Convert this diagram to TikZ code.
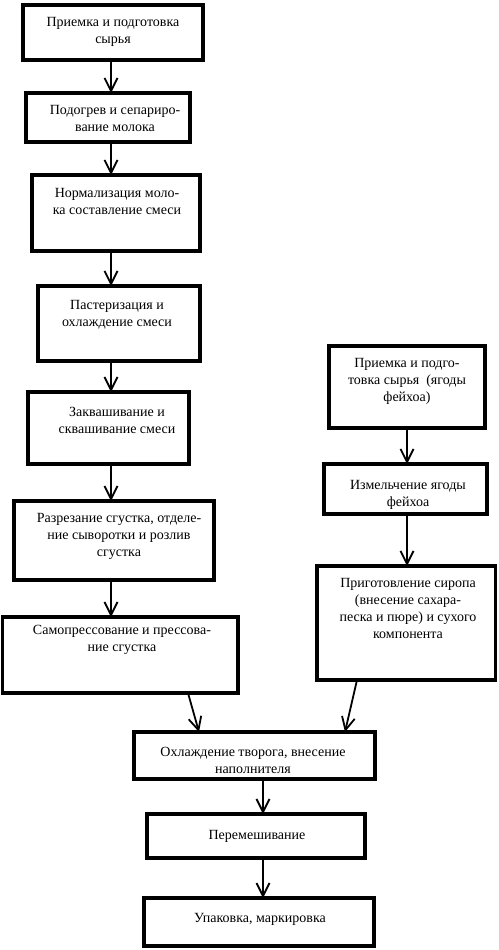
\documentclass[tikz,border=0pt]{standalone}
\usepackage{fontspec}
\setmainfont{Liberation Serif}
\usetikzlibrary{arrows.meta}
\newcommand\mkbox[5]{\node[procbox, minimum width={(#4-#2)*1pt}, minimum height={(#5-#3)*1pt}] (#1) at ({(#2+#4)/2},{(#3+#5)/2}) {};}
\begin{document}
\begin{tikzpicture}[x=1pt,y=-1pt,
 procbox/.style={draw, line width=3.5pt, rectangle, inner sep=0pt, outer sep=0pt},
 txt/.style={anchor=north, align=center, inner sep=0pt, font=\fontsize{14}{17}\selectfont},
 arr/.style={line width=1.8pt, -{Straight Barb[length=13pt,width=13pt,line width=1.8pt]}}]
\useasboundingbox (0,0) rectangle (498,950);
% boxes
\mkbox{b1}{23}{5}{203}{60}
\mkbox{b2}{26}{93}{190}{142}
\mkbox{b3}{32}{175}{200}{251}
\mkbox{b4}{38}{286}{200}{361}
\mkbox{b5}{28}{392}{189}{464}
\mkbox{b6}{14}{501}{214}{580}
\mkbox{b7}{2.5}{617}{238}{693}
\mkbox{r1}{329}{346}{485}{428}
\mkbox{r2}{324}{464}{487}{514}
\mkbox{r3}{317}{566}{495.5}{680}
\mkbox{b8}{134}{732}{375}{779}
\mkbox{b9}{147}{814}{365}{858}
\mkbox{b10}{144}{898}{374}{946}
% texts
\node[txt] (t1) at (113,17) {Приемка и подготовка\\сырья};
\node[txt] (t2) at (115,105) {Подогрев и сепариро-\\вание молока};
\node[txt] (t3) at (117,188) {Нормализация моло-\\ка составление смеси};
\node[txt] (t4) at (117,300) {Пастеризация и\\охлаждение смеси};
\node[txt] (t5) at (117,407) {Заквашивание и\\сквашивание смеси};
\node[txt] (t6) at (119,513) {Разрезание сгустка, отделе-\\ние сыворотки и розлив\\сгустка};
\node[txt] (t7) at (122,625) {Самопрессование и прессова-\\ние сгустка};
\node[txt] (tr1) at (407,358) {Приемка и подго-\\товка сырья~~(ягоды\\фейхоа)};
\node[txt] (tr2) at (408,480) {Измельчение ягоды\\фейхоа};
\node[txt] (tr3) at (408,578) {Приготовление сиропа\\(внесение сахара-\\песка и пюре) и сухого\\компонента};
\node[txt] (t8) at (253,747) {Охлаждение творога, внесение\\наполнителя};
\node[txt] (t9) at (257,830) {Перемешивание};
\node[txt] (t10) at (260,913) {Упаковка, маркировка};
% columns for connectors
\coordinate (colL) at (111,0);
\coordinate (colR) at (407,0);
\coordinate (colB) at (263,0);
\coordinate (s1) at (188,0);
\coordinate (e1) at (199,0);
\coordinate (s2) at (357,0);
\coordinate (e2) at (345,0);
% connectors
\draw[arr] (b1.south -| colL) -- (b2.north -| colL);
\draw[arr] (b2.south -| colL) -- (b3.north -| colL);
\draw[arr] (b3.south -| colL) -- (b4.north -| colL);
\draw[arr] (b4.south -| colL) -- (b5.north -| colL);
\draw[arr] (b5.south -| colL) -- (b6.north -| colL);
\draw[arr] (b6.south -| colL) -- (b7.north -| colL);
\draw[arr] (r1.south -| colR) -- (r2.north -| colR);
\draw[arr] (r2.south -| colR) -- (r3.north -| colR);
\draw[arr] (b7.south -| s1) -- (b8.north -| e1);
\draw[arr] (r3.south -| s2) -- (b8.north -| e2);
\draw[arr] (b8.south -| colB) -- (b9.north -| colB);
\draw[arr] (b9.south -| colB) -- (b10.north -| colB);
\end{tikzpicture}
\end{document}
